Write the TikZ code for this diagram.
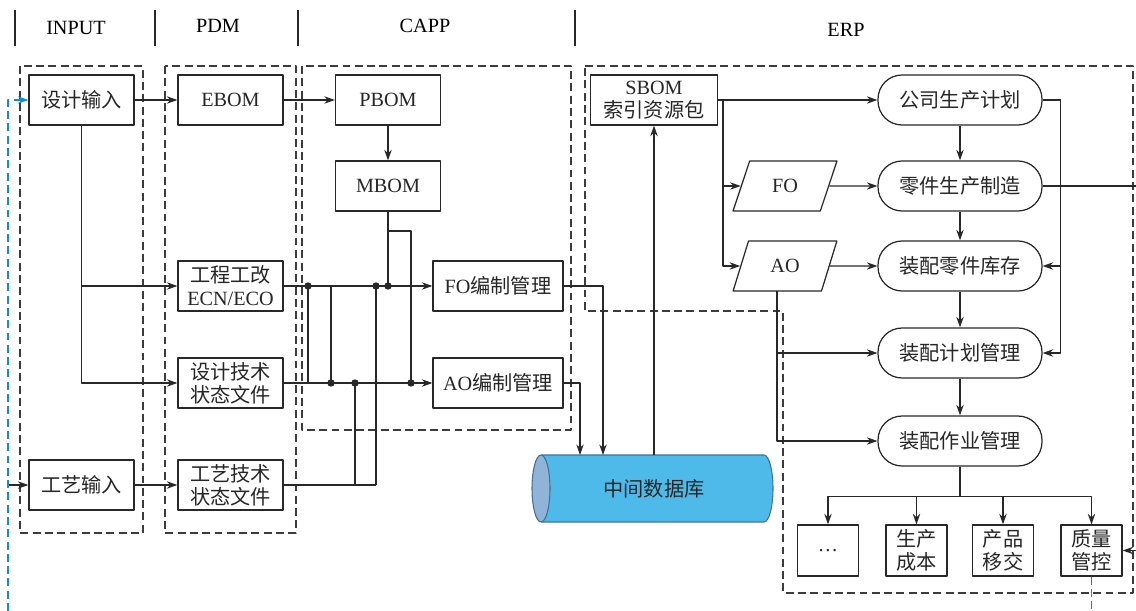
\documentclass[tikz,border=0pt]{standalone}
\usepackage{fontspec}
\setmainfont{Liberation Serif}
\newfontfamily\cjk{Noto Sans CJK SC}
\newcommand{\zh}[1]{{\cjk #1}}
\usetikzlibrary{shapes.geometric, arrows.meta}

\definecolor{lnc}{RGB}{40,40,40}
\definecolor{grpc}{RGB}{60,60,60}
\definecolor{dbbody}{RGB}{78,186,233}
\definecolor{dbface}{RGB}{143,180,216}
\definecolor{dbedge}{RGB}{70,110,150}
\definecolor{fbc}{RGB}{20,140,210}

\tikzset{
  box/.style={draw=lnc, line width=0.7pt, minimum width=2.1cm, minimum height=1cm,
    inner sep=1pt, align=center, text=black!85},
  pill/.style={box, rounded corners=0.48cm, minimum width=3.28cm},
  smallbox/.style={box, minimum width=1.22cm, minimum height=1.02cm},
  iobox/.style={draw=lnc, line width=0.7pt, trapezium, trapezium left angle=68,
    trapezium right angle=112, trapezium stretches=true, minimum width=2.08cm,
    minimum height=1cm, inner sep=1pt, text=black!85},
  grp/.style={draw=grpc, line width=0.6pt, dash pattern=on 4.5pt off 2.5pt},
  conn/.style={draw=lnc, line width=0.7pt},
  fb/.style={draw=fbc, line width=0.7pt, dash pattern=on 4.5pt off 2.5pt},
  dot/.style={circle, fill=lnc, inner sep=0pt, minimum size=4.2pt},
}

\begin{document}
\begin{tikzpicture}[x=0.02cm, y=-0.02cm, >={Stealth[length=6pt,width=4.2pt]},
    line join=round, font=\fontsize{11.5}{13}\selectfont]
  \useasboundingbox (0,0) rectangle (1136,611);

  % 表头
  \foreach \x in {15,155,298,575}
    \draw[lnc, line width=0.8pt] (\x,10) -- (\x,46);
  \node (hin) at (76,28) {INPUT};
  \node (hpdm) at (218,26) {PDM};
  \node (hcapp) at (425,26) {CAPP};
  \node (herp) at (846,30) {ERP};

  % 分区虚线框
  \draw[grp] (20,66) rectangle (143,533);
  \draw[grp] (165,66) rectangle (296,533);
  \draw[grp] (302,66) rectangle (571,430);
  \draw[grp] (585,66) -- (1133,66) -- (1133,593) -- (783,593) -- (783,311) -- (585,311) -- cycle;

  % INPUT
  \node[box] (sjin) at (81.5,100) {\zh{设计输入}};
  \node[box] (gyin) at (81.5,485) {\zh{工艺输入}};

  % PDM
  \node[box] (ebom) at (230.5,100) {EBOM};
  \node[box] (ecn) at (230.5,286) {\zh{工程工改}\\ECN/ECO};
  \node[box] (sjjs) at (230.5,383) {\zh{设计技术}\\\zh{状态文件}};
  \node[box] (gyjs) at (230.5,485) {\zh{工艺技术}\\\zh{状态文件}};

  % CAPP
  \node[box] (pbom) at (388,100) {PBOM};
  \node[box] (mbom) at (388,186) {MBOM};
  \node[box, minimum width=2.6cm] (fobz) at (498,286) {FO\zh{编制管理}};
  \node[box, minimum width=2.6cm] (aobz) at (498,383) {AO\zh{编制管理}};

  % 中间数据库 (圆柱)
  \fill[dbbody] (541,455) rectangle (764,522);
  \fill[dbbody] (764,488.5) ellipse (9 and 33.5);
  \draw[dbedge, line width=0.6pt] (541,455) -- (764,455) arc (-90:90:9 and 33.5) -- (541,522);
  \filldraw[fill=dbface, draw=dbedge, line width=0.6pt] (541,488.5) ellipse (9 and 33.5);
  \node[minimum width=4.82cm, minimum height=1.34cm, text=black!85] (db) at (654,488.5) {\zh{中间数据库}};

  % ERP
  \node[box, minimum width=2.54cm] (sbom) at (654,100) {SBOM\\\zh{索引资源包}};
  \node[iobox] (fo) at (785,186) {FO};
  \node[iobox] (ao) at (785,266) {AO};
  \node[pill] (gssc) at (960,100) {\zh{公司生产计划}};
  \node[pill] (ljsc) at (960,186) {\zh{零件生产制造}};
  \node[pill] (zpkc) at (960,266) {\zh{装配零件库存}};
  \node[pill] (zpjh) at (960,353) {\zh{装配计划管理}};
  \node[pill] (zpzy) at (960,441) {\zh{装配作业管理}};
  \node[smallbox] (etc) at (828,550.5) {\ldots};
  \node[smallbox] (sccb) at (916.5,550.5) {\zh{生产}\\\zh{成本}};
  \node[smallbox] (cpyj) at (1003,550.5) {\zh{产品}\\\zh{移交}};
  \node[smallbox] (zlgk) at (1091.5,550.5) {\zh{质量}\\\zh{管控}};

  % 自由端点
  \coordinate (lin) at (8,485);
  \coordinate (lfb) at (8,611);
  \coordinate (dbin1) at (580,455);
  \coordinate (dbin2) at (603,455);
  \coordinate (sb) at (723,100);
  \coordinate (aob) at (777,291);
  \coordinate (rout) at (1136,186);
  \coordinate (rin) at (1136,550.5);
  \coordinate (rfb) at (1091.5,611);

  % 左侧连线
  \draw[conn,->] (sjin) -- (ebom);
  \draw[conn,->] (ebom) -- (pbom);
  \draw[conn,->] (pbom) -- (mbom);
  \draw[conn,->] (sjin.south) |- (ecn.west);
  \draw[conn,->] (sjin.south) |- (sjjs.west);
  \draw[conn,->] (lin) -- (gyin.west);
  \draw[conn,->] (gyin) -- (gyjs);

  % CAPP 汇流线
  \draw[conn,->] (ecn) -- (fobz);
  \draw[conn,->] (sjjs) -- (aobz);
  \draw[conn] (gyjs.east) -- (376,485);
  \draw[conn] (308,286) -- (308,383);
  \draw[conn] (331,286) -- (331,383);
  \draw[conn] (355,383) -- (355,485);
  \draw[conn] (376,286) -- (376,485);
  \draw[conn] (mbom.south) -- (mbom.south |- ecn);
  \draw[conn] (388,231) -| (411,383);
  \foreach \x/\y [count=\i] in {308/286, 376/286, 388/286, 331/383, 355/383, 411/383}
    \node[dot] (d\i) at (\x,\y) {};

  % 进出数据库
  \draw[conn,->] (fobz.east) -| (dbin2);
  \draw[conn,->] (aobz.east) -| (dbin1);
  \draw[conn,->] (db.north) -- (sbom.south);

  % ERP 连线
  \draw[conn,->] (sbom) -- (gssc);
  \draw[conn,->] (sb) |- (fo.west);
  \draw[conn,->] (sb) |- (ao.west);
  \draw[conn,->] (fo) -- (ljsc);
  \draw[conn,->] (ao) -- (zpkc);
  \draw[conn,->] (gssc) -- (ljsc);
  \draw[conn,->] (ljsc) -- (zpkc);
  \draw[conn,->] (zpkc) -- (zpjh);
  \draw[conn,->] (zpjh) -- (zpzy);
  \draw[conn,->] (gssc.east) -- ++(18,0) |- (zpjh.east);
  \draw[conn,->] (gssc.east) -- ++(18,0) |- (zpkc.east);
  \draw[conn,->] (aob) |- (zpjh.west);
  \draw[conn,->] (aob) |- (zpzy.west);
  \draw[conn] (ljsc.east) -- (rout);
  \draw[conn,->] (rin) -- (zlgk.east);
  \foreach \n in {etc,sccb,cpyj,zlgk}
    \draw[conn,->] (zpzy.south) -- ++(0,30) -| (\n.north);

  % 反馈回路
  \draw[fb,->] (lfb) |- (sjin.west);
  \draw[fb] (zlgk.south) -- (rfb);
\end{tikzpicture}
\end{document}
